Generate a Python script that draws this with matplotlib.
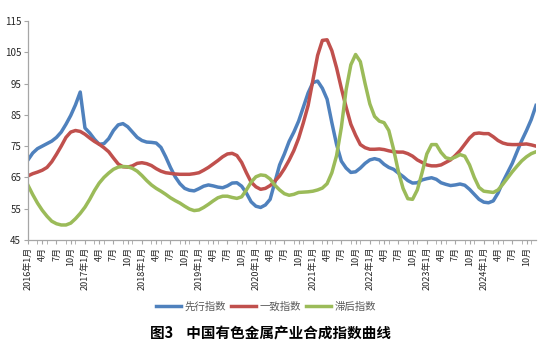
import numpy as np
import matplotlib
matplotlib.use("Agg")
import matplotlib.pyplot as plt

plt.rcParams['font.family'] = ['Noto Sans CJK SC', 'DejaVu Sans']

# monthly values, 2016-01 .. 2024-12
years = list(range(2016, 2025))
leading = [70.6, 72.8, 74.2, 75.0, 75.8, 76.6, 77.8, 79.5, 82.0, 84.8, 88.2, 92.3,
           80.8, 79.2, 77.2, 75.6, 75.8, 77.4, 80.0, 81.8, 82.2, 81.2, 79.5, 77.8,
           76.8, 76.3, 76.2, 76.0, 74.6, 71.6, 68.2, 65.2, 63.0, 61.5, 60.9, 60.7,
           61.4, 62.2, 62.6, 62.3, 61.9, 61.7, 62.3, 63.2, 63.3, 62.2, 60.0, 57.2,
           55.8, 55.4, 56.2, 58.0, 63.5, 69.0, 72.5, 76.5, 79.5, 83.0, 87.5, 92.0,
           95.3, 95.8, 93.5, 90.0, 82.5, 75.5, 70.2, 68.0, 66.6, 66.8, 68.0, 69.5,
           70.6, 71.0, 70.6, 69.2, 68.2, 67.6, 66.4, 65.3, 64.0, 63.2, 63.3, 64.2,
           64.6, 64.9, 64.4, 63.3, 62.8, 62.4, 62.6, 62.9, 62.5, 61.2, 59.6, 58.0,
           57.1, 56.9, 57.5, 60.0, 63.5, 66.5, 69.5, 73.2, 76.8, 80.0, 83.5, 88.0]
coincident = [65.5, 66.2, 66.7, 67.3, 68.2, 70.0, 72.4, 75.0, 77.8, 79.5, 80.0, 79.7,
              78.8, 77.6, 76.5, 75.6, 74.5, 73.2, 71.2, 69.3, 68.4, 68.3, 68.7, 69.5,
              69.7, 69.4, 68.8, 67.8, 67.0, 66.5, 66.3, 66.1, 66.0, 66.0, 66.0, 66.2,
              66.5, 67.3, 68.2, 69.3, 70.4, 71.6, 72.5, 72.7, 72.0, 69.8, 66.5, 63.5,
              62.0, 61.2, 61.5, 62.4, 63.8, 65.5, 67.8, 70.5, 73.6, 77.5, 82.5, 88.0,
              96.0, 104.0, 108.8, 109.0, 105.5, 100.0, 93.5, 87.5, 82.0, 78.5, 75.5, 74.5,
              74.0, 74.0, 74.1, 73.9, 73.5, 73.2, 73.1, 73.1, 72.6, 71.8, 70.6, 69.8,
              69.0, 68.7, 68.7, 69.0, 69.8, 70.6, 72.0, 73.6, 75.6, 77.6, 79.0, 79.2,
              79.0, 79.0, 78.0, 76.8, 76.0, 75.6, 75.5, 75.5, 75.6, 75.7, 75.4, 75.0]
lagging = [62.5, 59.5, 56.8, 54.5, 52.6, 51.0, 50.2, 49.8, 49.8, 50.4, 51.8, 53.5,
           55.5, 58.0, 60.8, 63.2, 65.0, 66.4, 67.6, 68.3, 68.5, 68.4, 67.9, 67.0,
           65.6, 64.0, 62.6, 61.5, 60.6, 59.6, 58.5, 57.6, 56.8, 55.8, 54.9, 54.4,
           54.6, 55.4, 56.4, 57.5, 58.5, 59.0, 59.0, 58.6, 58.3, 58.8, 61.0, 63.5,
           65.2, 65.8, 65.6, 64.5, 62.5, 61.0, 59.8, 59.3, 59.6, 60.2, 60.3, 60.4,
           60.6, 61.0, 61.6, 63.0, 66.5, 72.0, 81.0, 93.0, 101.0, 104.3, 102.0, 95.0,
           88.5, 84.5, 83.0, 82.5, 80.0, 74.0, 67.0, 61.5, 58.2, 58.0, 61.0, 66.5,
           72.5, 75.5, 75.5, 73.0, 71.3, 70.9, 71.5, 72.3, 71.8, 69.0, 65.0, 61.8,
           60.6, 60.4, 60.2, 61.0, 62.8, 64.8, 66.8, 68.6, 70.3, 71.6, 72.6, 73.2]

labels = []
for y in years:
    for m in range(1, 13):
        if m == 1:
            labels.append(f"{y}年1月")
        elif m in (4, 7, 10):
            labels.append(f"{m}月")
        else:
            labels.append("")

x = np.arange(len(leading))

fig = plt.figure(figsize=(5.44, 3.49), dpi=100)
ax = fig.add_axes([28/544, 1-240/349, (536-28)/544, (240-21)/349])

ax.plot(x, leading, color='#4F81BD', lw=2.5, label='先行指数', solid_joinstyle='round')
ax.plot(x, coincident, color='#C0504D', lw=2.5, label='一致指数', solid_joinstyle='round')
ax.plot(x, lagging, color='#9BBB59', lw=2.5, label='滞后指数', solid_joinstyle='round')

ax.set_xlim(0, len(x) - 1)
ax.set_ylim(45, 115)
ax.set_yticks(range(45, 116, 10))
lab_idx = [i for i, s in enumerate(labels) if s]
ax.set_xticks(lab_idx)
ax.set_xticklabels([labels[i] for i in lab_idx], rotation=90, fontsize=6.5, color='#262626')
ax.set_xticks(range(0, len(x), 2), minor=True)
ax.tick_params(axis='x', which='both', length=3, color='#A6A6A6', pad=2)
ax.tick_params(axis='y', length=3, color='#A6A6A6', labelsize=7, labelcolor='#262626', pad=2)
for s in ['top', 'right']:
    ax.spines[s].set_visible(False)
for s in ['left', 'bottom']:
    ax.spines[s].set_color('#A6A6A6')
    ax.spines[s].set_linewidth(0.9)

leg = fig.legend(loc='center', bbox_to_anchor=(266/544, 1-307/349), ncol=3, frameon=False,
                 fontsize=7.5, handlelength=2.4, handletextpad=0.3, columnspacing=0.5,
                 borderpad=0)
for t in leg.get_texts():
    t.set_color('#595959')

fig.text(270/544, 1-334/349, '图3    中国有色金属产业合成指数曲线', ha='center', va='center',
         fontsize=10.5, fontweight='bold', color='black')

fig.savefig('out.png', dpi=100)
